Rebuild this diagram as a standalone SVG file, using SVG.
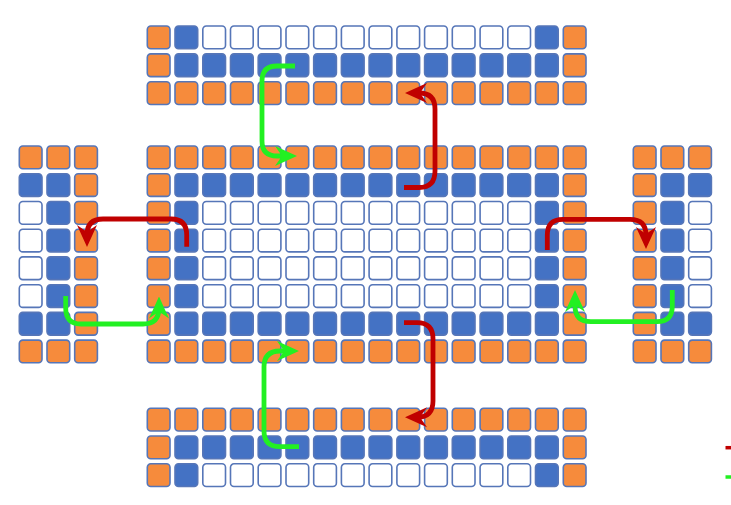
<svg xmlns="http://www.w3.org/2000/svg" xmlns:xlink="http://www.w3.org/1999/xlink" width="731" height="505" viewBox="0 0 731 505">
<style>
.c{stroke:#5676B8;stroke-width:1.6}
.o{fill:#F68B3C}
.b{fill:#4472C4}
.w{fill:#FFFFFF}
.red{fill:none;stroke:#C00000;stroke-width:4.8}
.grn{fill:none;stroke:#22F022;stroke-width:4.8}
</style>
<defs>
<marker id="ar" viewBox="0 0 22 22" markerUnits="userSpaceOnUse" markerWidth="22" markerHeight="22" refX="11" refY="11" orient="auto"><path d="M0,1 L22,11 L0,21 L7,11 z" fill="#C00000"/></marker>
<marker id="ag" viewBox="0 0 22 22" markerUnits="userSpaceOnUse" markerWidth="22" markerHeight="22" refX="11" refY="11" orient="auto"><path d="M0,1 L22,11 L0,21 L7,11 z" fill="#22F022"/></marker>
<g id="rO">
<rect class="c o" x="147.3" width="22.7" height="22.7" rx="3.5"/><rect class="c o" x="175" width="22.7" height="22.7" rx="3.5"/><rect class="c o" x="202.8" width="22.7" height="22.7" rx="3.5"/><rect class="c o" x="230.5" width="22.7" height="22.7" rx="3.5"/><rect class="c o" x="258.2" width="22.7" height="22.7" rx="3.5"/><rect class="c o" x="286" width="22.7" height="22.7" rx="3.5"/><rect class="c o" x="313.7" width="22.7" height="22.7" rx="3.5"/><rect class="c o" x="341.4" width="22.7" height="22.7" rx="3.5"/><rect class="c o" x="369.1" width="22.7" height="22.7" rx="3.5"/><rect class="c o" x="396.9" width="22.7" height="22.7" rx="3.5"/><rect class="c o" x="424.6" width="22.7" height="22.7" rx="3.5"/><rect class="c o" x="452.3" width="22.7" height="22.7" rx="3.5"/><rect class="c o" x="480.1" width="22.7" height="22.7" rx="3.5"/><rect class="c o" x="507.8" width="22.7" height="22.7" rx="3.5"/><rect class="c o" x="535.5" width="22.7" height="22.7" rx="3.5"/><rect class="c o" x="563.3" width="22.7" height="22.7" rx="3.5"/>
</g>
<g id="rB">
<rect class="c o" x="147.3" width="22.7" height="22.7" rx="3.5"/><rect class="c b" x="175" width="22.7" height="22.7" rx="3.5"/><rect class="c b" x="202.8" width="22.7" height="22.7" rx="3.5"/><rect class="c b" x="230.5" width="22.7" height="22.7" rx="3.5"/><rect class="c b" x="258.2" width="22.7" height="22.7" rx="3.5"/><rect class="c b" x="286" width="22.7" height="22.7" rx="3.5"/><rect class="c b" x="313.7" width="22.7" height="22.7" rx="3.5"/><rect class="c b" x="341.4" width="22.7" height="22.7" rx="3.5"/><rect class="c b" x="369.1" width="22.7" height="22.7" rx="3.5"/><rect class="c b" x="396.9" width="22.7" height="22.7" rx="3.5"/><rect class="c b" x="424.6" width="22.7" height="22.7" rx="3.5"/><rect class="c b" x="452.3" width="22.7" height="22.7" rx="3.5"/><rect class="c b" x="480.1" width="22.7" height="22.7" rx="3.5"/><rect class="c b" x="507.8" width="22.7" height="22.7" rx="3.5"/><rect class="c b" x="535.5" width="22.7" height="22.7" rx="3.5"/><rect class="c o" x="563.3" width="22.7" height="22.7" rx="3.5"/>
</g>
<g id="rW">
<rect class="c o" x="147.3" width="22.7" height="22.7" rx="3.5"/><rect class="c b" x="175" width="22.7" height="22.7" rx="3.5"/><rect class="c w" x="202.8" width="22.7" height="22.7" rx="3.5"/><rect class="c w" x="230.5" width="22.7" height="22.7" rx="3.5"/><rect class="c w" x="258.2" width="22.7" height="22.7" rx="3.5"/><rect class="c w" x="286" width="22.7" height="22.7" rx="3.5"/><rect class="c w" x="313.7" width="22.7" height="22.7" rx="3.5"/><rect class="c w" x="341.4" width="22.7" height="22.7" rx="3.5"/><rect class="c w" x="369.1" width="22.7" height="22.7" rx="3.5"/><rect class="c w" x="396.9" width="22.7" height="22.7" rx="3.5"/><rect class="c w" x="424.6" width="22.7" height="22.7" rx="3.5"/><rect class="c w" x="452.3" width="22.7" height="22.7" rx="3.5"/><rect class="c w" x="480.1" width="22.7" height="22.7" rx="3.5"/><rect class="c w" x="507.8" width="22.7" height="22.7" rx="3.5"/><rect class="c b" x="535.5" width="22.7" height="22.7" rx="3.5"/><rect class="c o" x="563.3" width="22.7" height="22.7" rx="3.5"/>
</g>
<g id="lO"><rect class="c o" x="19.3" width="22.7" height="22.7" rx="3.5"/><rect class="c o" x="47" width="22.7" height="22.7" rx="3.5"/><rect class="c o" x="74.7" width="22.7" height="22.7" rx="3.5"/></g>
<g id="lB"><rect class="c b" x="19.3" width="22.7" height="22.7" rx="3.5"/><rect class="c b" x="47" width="22.7" height="22.7" rx="3.5"/><rect class="c o" x="74.7" width="22.7" height="22.7" rx="3.5"/></g>
<g id="lW"><rect class="c w" x="19.3" width="22.7" height="22.7" rx="3.5"/><rect class="c b" x="47" width="22.7" height="22.7" rx="3.5"/><rect class="c o" x="74.7" width="22.7" height="22.7" rx="3.5"/></g>
<g id="kO"><rect class="c o" x="633.3" width="22.7" height="22.7" rx="3.5"/><rect class="c o" x="661" width="22.7" height="22.7" rx="3.5"/><rect class="c o" x="688.7" width="22.7" height="22.7" rx="3.5"/></g>
<g id="kB"><rect class="c o" x="633.3" width="22.7" height="22.7" rx="3.5"/><rect class="c b" x="661" width="22.7" height="22.7" rx="3.5"/><rect class="c b" x="688.7" width="22.7" height="22.7" rx="3.5"/></g>
<g id="kW"><rect class="c o" x="633.3" width="22.7" height="22.7" rx="3.5"/><rect class="c b" x="661" width="22.7" height="22.7" rx="3.5"/><rect class="c w" x="688.7" width="22.7" height="22.7" rx="3.5"/></g>
</defs>
<rect x="0" y="0" width="731" height="505" fill="#FFFFFF"/>
<g id="top-block">
<use xlink:href="#rW" href="#rW" y="26"/>
<use xlink:href="#rB" href="#rB" y="53.9"/>
<use xlink:href="#rO" href="#rO" y="81.8"/>
</g>
<g id="center-block">
<use xlink:href="#rO" href="#rO" y="146"/>
<use xlink:href="#rB" href="#rB" y="173.7"/>
<use xlink:href="#rW" href="#rW" y="201.5"/>
<use xlink:href="#rW" href="#rW" y="229.2"/>
<use xlink:href="#rW" href="#rW" y="256.9"/>
<use xlink:href="#rW" href="#rW" y="284.7"/>
<use xlink:href="#rB" href="#rB" y="312.4"/>
<use xlink:href="#rO" href="#rO" y="340.1"/>
</g>
<g id="bottom-block">
<use xlink:href="#rO" href="#rO" y="408.3"/>
<use xlink:href="#rB" href="#rB" y="436"/>
<use xlink:href="#rW" href="#rW" y="463.8"/>
</g>
<g id="left-block">
<use xlink:href="#lO" href="#lO" y="146"/>
<use xlink:href="#lB" href="#lB" y="173.7"/>
<use xlink:href="#lW" href="#lW" y="201.5"/>
<use xlink:href="#lW" href="#lW" y="229.2"/>
<use xlink:href="#lW" href="#lW" y="256.9"/>
<use xlink:href="#lW" href="#lW" y="284.7"/>
<use xlink:href="#lB" href="#lB" y="312.4"/>
<use xlink:href="#lO" href="#lO" y="340.1"/>
</g>
<g id="right-block">
<use xlink:href="#kO" href="#kO" y="146"/>
<use xlink:href="#kB" href="#kB" y="173.7"/>
<use xlink:href="#kW" href="#kW" y="201.5"/>
<use xlink:href="#kW" href="#kW" y="229.2"/>
<use xlink:href="#kW" href="#kW" y="256.9"/>
<use xlink:href="#kW" href="#kW" y="284.7"/>
<use xlink:href="#kB" href="#kB" y="312.4"/>
<use xlink:href="#kO" href="#kO" y="340.1"/>
</g>
<g id="connectors">
<path class="grn" marker-end="url(#ag)" d="M295,66 H277 Q262,66 262,81 V141 Q262,156 277,156 H286"/>
<path class="red" marker-end="url(#ar)" d="M404,187.5 H419 Q435,187.5 435,171 V109 Q435,93 419,93 H416"/>
<path class="grn" marker-end="url(#ag)" d="M299,446.7 H280 Q264,446.7 264,431 V367 Q264,351 280,351 H288"/>
<path class="red" marker-end="url(#ar)" d="M404,322.7 H417 Q433,322.7 433,339 V401 Q433,417.3 417,417.3 H416"/>
<path class="red" marker-end="url(#ar)" d="M186.7,246.7 V235 Q186.7,219 171,219 H103 Q87,219 87,235 V236"/>
<path class="grn" marker-end="url(#ag)" d="M65.7,296 V308 Q65.7,324 81,324 H143 Q159,324 159,308 V307.5"/>
<path class="red" marker-end="url(#ar)" d="M547.3,250 V235 Q547.3,219.3 563,219.3 H630 Q646,219.3 646,235 V238"/>
<path class="grn" marker-end="url(#ag)" d="M672.3,290 V306 Q672.3,321.7 657,321.7 H591 Q575,321.7 575,306 V301"/>
</g>
<g id="legend">
<line x1="725.5" y1="447.7" x2="731" y2="447.7" stroke="#C00000" stroke-width="3.5"/>
<line x1="725.5" y1="477" x2="731" y2="477" stroke="#22F022" stroke-width="3.5"/>
</g>
</svg>
